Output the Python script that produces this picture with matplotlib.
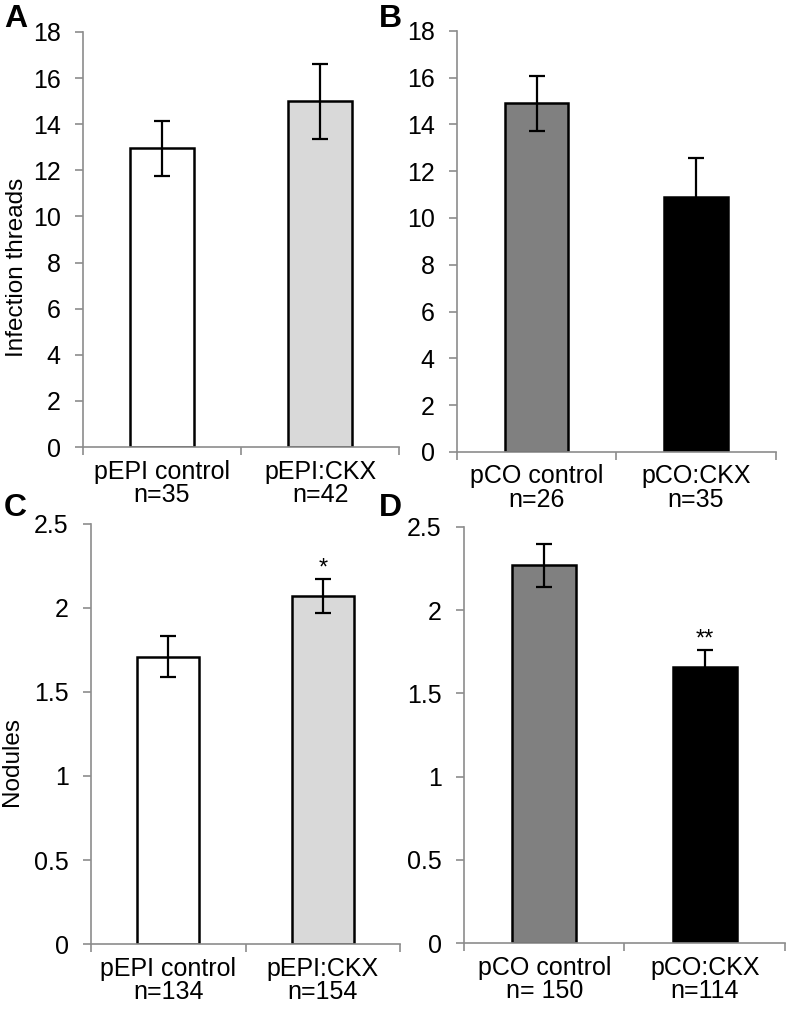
import numpy as np
import matplotlib.pyplot as plt

plt.rcParams['font.family'] = ['Liberation Sans', 'DejaVu Sans']

# panel data
labels_A = ['pEPI control\nn=35', 'pEPI:CKX\nn=42']
vals_A = [12.95, 15.0]
err_A = [1.18, 1.63]

labels_B = ['pCO control\nn=26', 'pCO:CKX\nn=35']
vals_B = [14.9, 10.9]
err_B = [1.18, 1.65]

labels_C = ['pEPI control\nn=134', 'pEPI:CKX\nn=154']
vals_C = [1.71, 2.07]
err_C = [0.12, 0.10]
stars_C = ['', '*']

labels_D = ['pCO control\nn= 150', 'pCO:CKX\nn=114']
vals_D = [2.27, 1.66]
err_D = [0.13, 0.10]
stars_D = ['', '**']

colors_epi = ['#ffffff', '#d9d9d9']
colors_co = ['#808080', '#000000']

AXCOL = '#8c8c8c'


def draw_panel(ax, labels, vals, errs, colors, ymax, ystep, stars=None):
    x = np.arange(len(vals))
    ax.bar(x, vals, width=0.4, color=colors, edgecolor='black', linewidth=1.8, zorder=2)
    ax.errorbar(x, vals, yerr=errs, fmt='none', ecolor='black', elinewidth=1.6,
                capsize=6, capthick=1.6, zorder=3)
    if stars:
        for xi, v, e, s in zip(x, vals, errs, stars):
            if s:
                ax.annotate(s, (xi, v + e), xytext=(0, 0), textcoords='offset points',
                            ha='center', va='bottom', fontsize=17)
    ax.set_xlim(-0.5, len(vals) - 0.5)
    ax.set_ylim(0, ymax)
    ax.set_yticks(np.arange(0, ymax + ystep / 2, ystep))
    ax.yaxis.set_major_formatter(plt.FuncFormatter(lambda v, p: f'{v:g}'))
    ax.set_xticks(x)
    ax.set_xticklabels(labels, linespacing=0.95)
    ax.set_xticks(np.arange(len(vals) + 1) - 0.5, minor=True)
    ax.tick_params(axis='x', which='major', length=0, pad=9, labelsize=18)
    ax.tick_params(axis='x', which='minor', length=6, color=AXCOL, width=1.2)
    ax.tick_params(axis='y', length=6, color=AXCOL, width=1.2, labelsize=18, pad=10)
    for s in ['top', 'right']:
        ax.spines[s].set_visible(False)
    for s in ['left', 'bottom']:
        ax.spines[s].set_color(AXCOL)
        ax.spines[s].set_linewidth(1.2)


fig = plt.figure(figsize=(7.89, 10.10), dpi=100)
axA = fig.add_axes([0.105, 0.5574, 0.401, 0.411])
axB = fig.add_axes([0.579, 0.5525, 0.404, 0.417])
axC = fig.add_axes([0.1153, 0.0653, 0.392, 0.416])
axD = fig.add_axes([0.588, 0.0663, 0.407, 0.412])

draw_panel(axA, labels_A, vals_A, err_A, colors_epi, 18, 2)
draw_panel(axB, labels_B, vals_B, err_B, colors_co, 18, 2)
draw_panel(axC, labels_C, vals_C, err_C, colors_epi, 2.5, 0.5, stars_C)
draw_panel(axD, labels_D, vals_D, err_D, colors_co, 2.5, 0.5, stars_D)

fig.text(17 / 789, 1 - 267 / 1010, 'Infection threads', rotation=90,
         ha='center', va='center', fontsize=17.5)
fig.text(12 / 789, 1 - 762 / 1010, 'Nodules', rotation=90,
         ha='center', va='center', fontsize=17.5)

for lab, px, py in [('A', 16, 19), ('B', 390, 19), ('C', 15, 508), ('D', 390, 508)]:
    fig.text(px / 789, 1 - py / 1010, lab, ha='center', va='center',
             fontsize=23, fontweight='bold')

fig.savefig('out.png', dpi=100)
